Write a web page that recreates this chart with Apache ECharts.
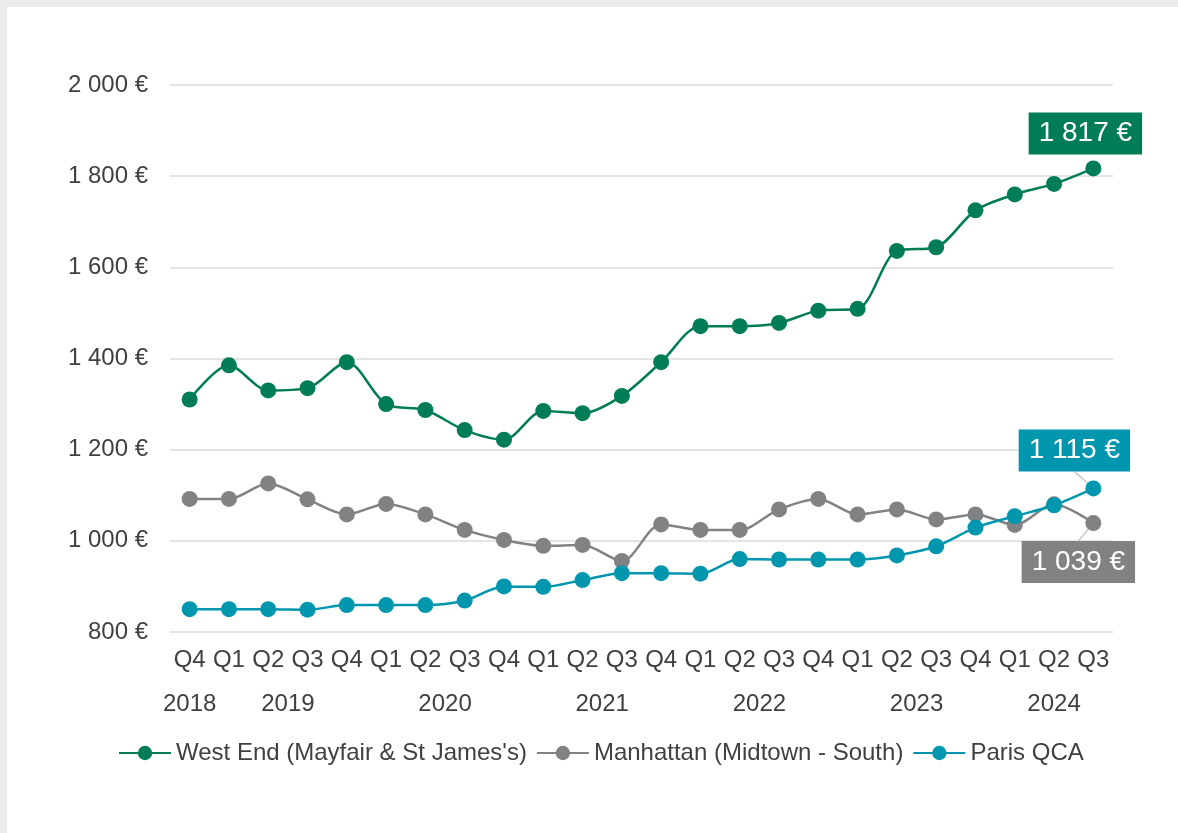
<!DOCTYPE html>
<html>
<head>
	<meta charset="utf-8">
	<title>Loyers prime bureaux</title>
	<style>
		body {
			margin: 0;
			padding: 0;
			background-color: #ebebeb;
			font-family: "Liberation Sans", Arial, sans-serif;
		}

		#main {
			position: absolute;
			left: 7px;
			top: 7px;
			width: 1171px;
			height: 826px;
			background-color: #fff;
		}
	</style>
</head>
<body>
	<div id="main"></div>

	<script src="https://cdn.jsdelivr.net/npm/echarts@6/dist/echarts.min.js"></script>
	<script type="text/javascript">
		// quarters + the year each belongs to
		var quarters = ['Q4', 'Q1', 'Q2', 'Q3', 'Q4', 'Q1', 'Q2', 'Q3', 'Q4', 'Q1', 'Q2', 'Q3',
			'Q4', 'Q1', 'Q2', 'Q3', 'Q4', 'Q1', 'Q2', 'Q3', 'Q4', 'Q1', 'Q2', 'Q3'];
		var quarterYears = ['2018', '2019', '2019', '2019', '2019', '2020', '2020', '2020', '2020',
			'2021', '2021', '2021', '2021', '2022', '2022', '2022', '2022',
			'2023', '2023', '2023', '2023', '2024', '2024', '2024'];

		var seriesNames = ['West End (Mayfair & St James\'s)', 'Manhattan (Midtown - South)', 'Paris QCA'];

		var westEnd = [1310, 1385, 1330, 1335, 1392, 1300, 1287, 1243, 1222, 1285, 1280, 1318,
			1392, 1471, 1471, 1478, 1505, 1509, 1636, 1644, 1725, 1760, 1783, 1817];
		var manhattan = [1092, 1092, 1126, 1091, 1058, 1081, 1058, 1024, 1002, 989, 991, 956,
			1036, 1024, 1024, 1069, 1092, 1058, 1069, 1047, 1058, 1035, 1080, 1039];
		var paris = [850, 850, 850, 849, 859, 859, 859, 869, 900, 899, 914, 929,
			929, 928, 960, 959, 959, 959, 968, 988, 1029, 1054, 1078, 1115];

		var colors = ['#007d57', '#808284', '#0096ae'];
		var textColor = '#404040';

		function fmtEuro(v) {
			return String(v).replace(/\B(?=(\d{3})+(?!\d))/g, ' ') + ' €';
		}

		// centre of each year's group of quarters (category index units)
		var years = [], yearCenters = [];
		for (var i = 0; i < quarterYears.length; i++) {
			var y = quarterYears[i];
			var k = years.indexOf(y);
			if (k < 0) {
				years.push(y);
				yearCenters.push([i, i]);
			} else {
				yearCenters[k][1] = i;
			}
		}
		yearCenters = yearCenters.map(function (r) { return (r[0] + r[1]) / 2; });

		// last point gets the boxed value label
		function buildData(values, color, pos) {
			return values.map(function (v, i) {
				if (i !== values.length - 1) return v;
				return {
					value: v,
					label: {
						show: true,
						position: pos,
						distance: 6,
						formatter: function (p) { return fmtEuro(p.value); },
						color: '#fff',
						fontSize: 28,
						lineHeight: 30,
						backgroundColor: color,
						padding: [6, 10, 6, 10]
					}
				};
			});
		}

		var layouts = [{ dx: -8, dy: 0 }, { dx: -15, dy: 4 }, { dx: -19, dy: -3 }];
		var positions = ['top', 'bottom', 'top'];
		var allValues = [westEnd, manhattan, paris];

		var series = allValues.map(function (vals, s) {
			return {
				name: seriesNames[s],
				type: 'line',
				smooth: 0.3,
				symbol: 'circle',
				symbolSize: 16,
				color: colors[s],
				lineStyle: { width: 2.5, color: colors[s] },
				itemStyle: { color: colors[s] },
				data: buildData(vals, colors[s], positions[s]),
				labelLayout: layouts[s],
				labelLine: {
					show: s > 0,
					lineStyle: { color: '#c8c8c8', width: 1.5 }
				}
			};
		});

		var myChart = echarts.init(document.getElementById('main'));

		myChart.setOption({
			animation: false,
			textStyle: { fontFamily: '"Liberation Sans", Arial, sans-serif' },
			grid: {
				left: 163,
				right: 65,
				top: 78,
				bottom: 201
			},
			legend: {
				left: 111,
				top: 734,
				padding: 0,
				itemWidth: 52,
				itemHeight: 18,
				itemGap: 9,
				textStyle: { fontSize: 24, color: textColor },
				data: seriesNames
			},
			xAxis: [
				{
					type: 'category',
					boundaryGap: true,
					data: quarters,
					axisLine: { show: false },
					axisTick: { show: false },
					axisLabel: {
						interval: 0,
						margin: 16,
						fontSize: 24,
						color: textColor
					}
				},
				{
					type: 'value',
					min: -0.5,
					max: 23.5,
					position: 'bottom',
					offset: 44,
					axisLine: { show: false },
					axisTick: { show: false },
					splitLine: { show: false },
					axisLabel: {
						customValues: yearCenters,
						margin: 16,
						fontSize: 24,
						color: textColor,
						formatter: function (v) {
							var k = yearCenters.indexOf(v);
							return k >= 0 ? years[k] : '';
						}
					}
				}
			],
			yAxis: {
				type: 'value',
				min: 800,
				max: 2000,
				interval: 200,
				axisLine: { show: false },
				axisTick: { show: false },
				axisLabel: {
					margin: 22,
					fontSize: 24,
					color: textColor,
					formatter: fmtEuro
				},
				splitLine: {
					lineStyle: { color: '#e4e4e4', width: 2 }
				}
			},
			series: series
		});

		window.addEventListener('resize', function () {
			myChart.resize();
		});
	</script>
</body>
</html>
